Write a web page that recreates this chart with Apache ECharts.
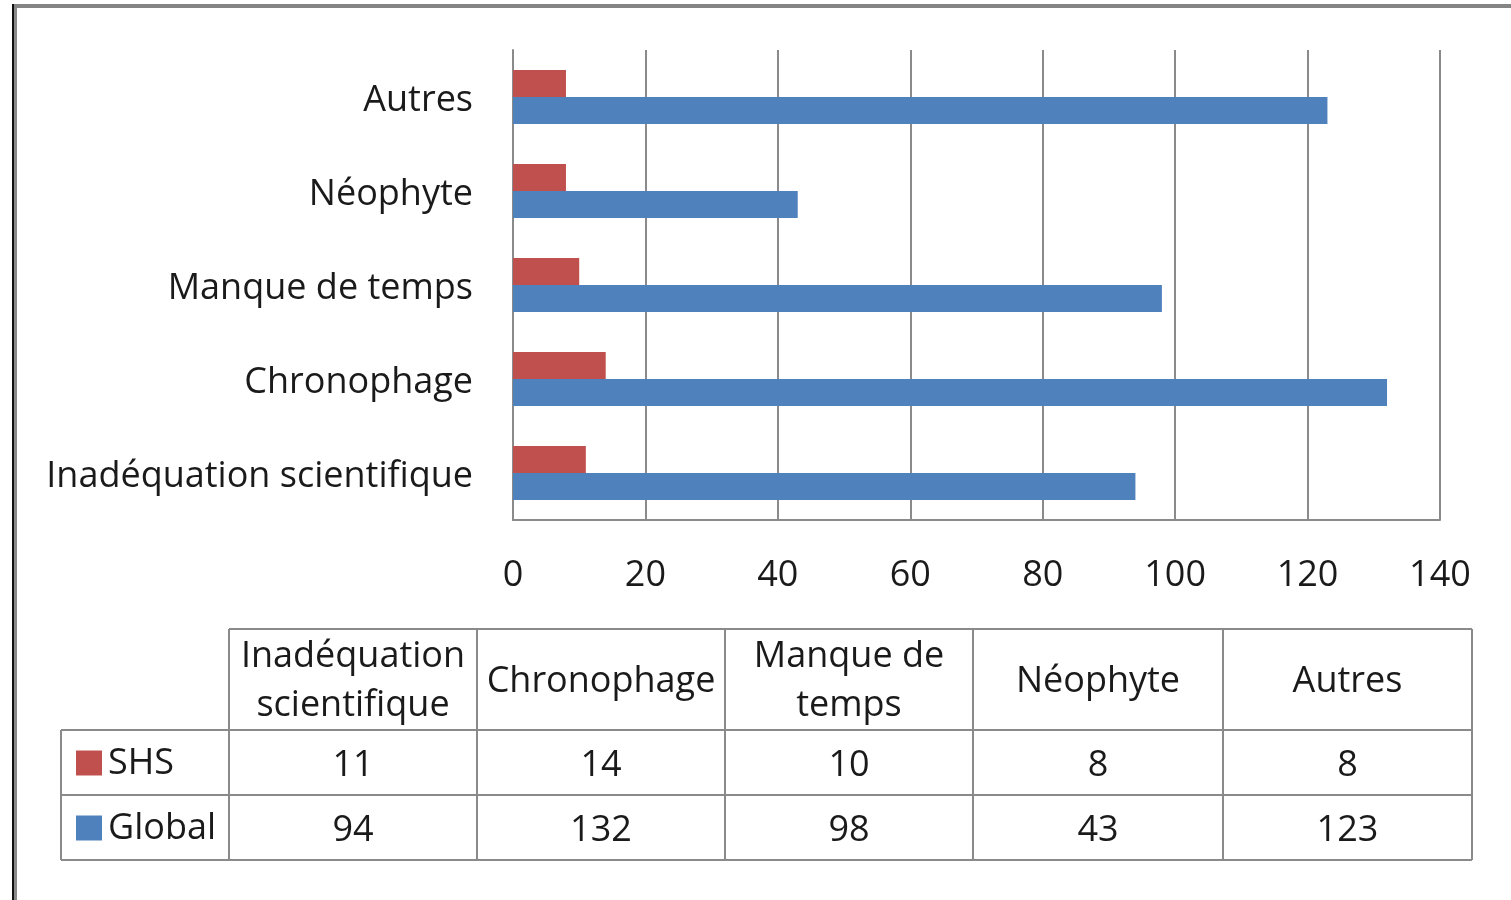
<!DOCTYPE html>
<html>
<head>
<meta charset="utf-8">
<script src="https://cdn.jsdelivr.net/npm/echarts@6/dist/echarts.min.js"></script>
<style>
html, body { margin: 0; padding: 0; background: #fff; }
#chart { width: 1511px; height: 900px; }
</style>
</head>
<body>
<div id="chart"></div>
<script>
// data, bottom to top on the y axis, left to right in the table
var categories = ['Inadéquation scientifique', 'Chronophage', 'Manque de temps', 'Néophyte', 'Autres'];
var headerLabels = ['Inadéquation\nscientifique', 'Chronophage', 'Manque de\ntemps', 'Néophyte', 'Autres'];
var seriesNames = ['SHS', 'Global'];
var shsValues = [11, 14, 10, 8, 8];
var globalValues = [94, 132, 98, 43, 123];
var colors = ['#C0504D', '#4F81BD'];

var font = '"Open Sans", Lato, sans-serif';
var fs = 36;
var gridCol = '#8a8a8a';
var textCol = '#1a1a1a';

var chart = echarts.init(document.getElementById('chart'));

// data table under the chart
function buildTable() {
    var els = [];
    var colX = [61, 229, 477, 725, 973, 1223, 1472];
    var rowY = [629, 730, 795, 860];
    var line = function (x1, y1, x2, y2) {
        els.push({ type: 'line', shape: { x1: x1, y1: y1, x2: x2, y2: y2 }, style: { stroke: gridCol, lineWidth: 2 } });
    };
    line(colX[1], rowY[0], colX[6], rowY[0]);
    for (var r = 1; r < rowY.length; r++) line(colX[0], rowY[r], colX[6], rowY[r]);
    line(colX[0], rowY[1], colX[0], rowY[3]);
    for (var c = 1; c < colX.length; c++) line(colX[c], rowY[0], colX[c], rowY[3]);

    var rows = [shsValues, globalValues];
    for (var i = 0; i < categories.length; i++) {
        var cx = (colX[i + 1] + colX[i + 2]) / 2;
        els.push({
            type: 'text', x: cx, y: (rowY[0] + rowY[1]) / 2 + 2,
            style: { text: headerLabels[i], font: fs + 'px ' + font, fill: textCol, align: 'center', verticalAlign: 'middle', lineHeight: 49 }
        });
        for (var k = 0; k < rows.length; k++) {
            els.push({
                type: 'text', x: cx, y: (rowY[k + 1] + rowY[k + 2]) / 2 + 3,
                style: { text: String(rows[k][i]), font: fs + 'px ' + font, fill: textCol, align: 'center', verticalAlign: 'middle' }
            });
        }
    }
    for (var s = 0; s < seriesNames.length; s++) {
        var cy = (rowY[s + 1] + rowY[s + 2]) / 2;
        els.push({ type: 'rect', shape: { x: 76, y: cy - 12, width: 26, height: 25 }, style: { fill: colors[s] } });
        els.push({
            type: 'text', x: 108, y: cy + 1,
            style: { text: seriesNames[s], font: fs + 'px ' + font, fill: textCol, align: 'left', verticalAlign: 'middle' }
        });
    }
    return els;
}

var frame = [
    { type: 'rect', shape: { x: 12, y: 4, width: 1499, height: 4 }, style: { fill: '#858585' } },
    { type: 'rect', shape: { x: 12, y: 4, width: 2, height: 896 }, style: { fill: '#111' } },
    { type: 'rect', shape: { x: 14, y: 8, width: 3, height: 892 }, style: { fill: '#8a8a8a' } }
];

var option = {
    animation: false,
    backgroundColor: '#fff',
    grid: { left: 513, right: 71, top: 50, bottom: 380 },
    xAxis: {
        type: 'value',
        min: 0, max: 140, interval: 20,
        axisLine: { show: true, lineStyle: { color: gridCol, width: 2 } },
        axisTick: { show: false },
        splitLine: { show: true, lineStyle: { color: gridCol, width: 2 } },
        axisLabel: { fontFamily: font, fontSize: fs, color: textCol, margin: 38 }
    },
    yAxis: {
        type: 'category',
        data: categories,
        axisLine: { show: true, lineStyle: { color: gridCol, width: 2 } },
        axisTick: { show: false },
        axisLabel: {
            margin: 40,
            formatter: function (v) { return '{a|' + v + '}'; },
            rich: { a: { fontFamily: font, fontSize: fs, color: textCol, padding: [7, 0, 0, 0] } }
        }
    },
    series: [
        { name: seriesNames[0], type: 'bar', data: shsValues, barWidth: 27, barGap: '0%', itemStyle: { color: colors[0] } },
        { name: seriesNames[1], type: 'bar', data: globalValues, barWidth: 27, barGap: '0%', itemStyle: { color: colors[1] } }
    ],
    graphic: frame.concat(buildTable())
};

chart.setOption(option);
</script>
</body>
</html>
